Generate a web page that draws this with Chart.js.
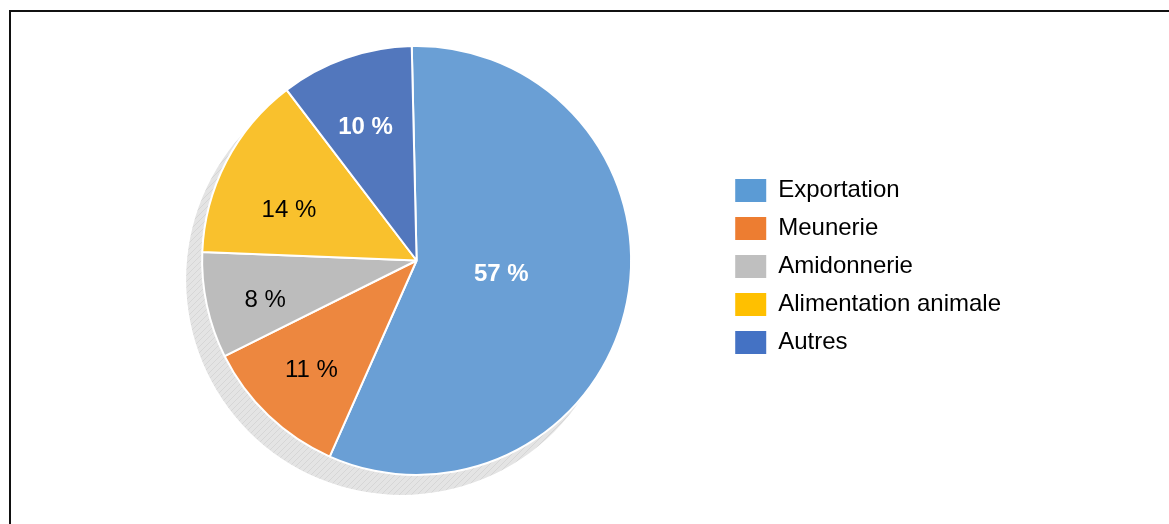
<!DOCTYPE html>
<html>
<head>
<meta charset="utf-8">
<script src="https://cdn.jsdelivr.net/npm/chart.js@4/dist/chart.umd.min.js"></script>
<style>
  html, body { margin: 0; padding: 0; background: #fff; }
  #wrap { position: relative; width: 1169px; height: 524px; overflow: hidden; }
  #frame { position: absolute; left: 9px; top: 10px; right: -5px; bottom: -5px;
           border-left: 2px solid #111; border-top: 2px solid #111; }
  #chart { position: absolute; left: 0; top: 0; }
</style>
</head>
<body>
<div id="wrap">
  <div id="frame"></div>
  <canvas id="chart" width="1169" height="524"></canvas>
</div>
<script>
const labels = ['Exportation', 'Meunerie', 'Amidonnerie', 'Alimentation animale', 'Autres']
const values = [57, 11, 8, 14, 10]
const sliceColors = ['#6a9fd5', '#ed873f', '#bcbcbc', '#f9c12d', '#5277bd']
const legendColors = ['#5b9bd5', '#ed7d31', '#bfbfbf', '#ffc000', '#4472c4']

// text style and placement of the value labels inside the slices
const labelStyle = [
    { color: '#ffffff', weight: 'bold', dist: 0.40, turn: -1.8 },
    { color: '#000000', weight: 'normal', dist: 0.71, turn: 0 },
    { color: '#000000', weight: 'normal', dist: 0.73, turn: -2.6 },
    { color: '#000000', weight: 'normal', dist: 0.64, turn: -6 },
    { color: '#ffffff', weight: 'bold', dist: 0.665, turn: -1.7 }
]

const makeHatch = () => {
    const c = document.createElement('canvas')
    c.width = 6
    c.height = 6
    const g = c.getContext('2d')
    g.fillStyle = '#e4e4e4'
    g.fillRect(0, 0, 6, 6)
    g.strokeStyle = '#d6d6d6'
    g.lineWidth = 1
    g.beginPath()
    g.moveTo(0, 6)
    g.lineTo(6, 0)
    g.stroke()
    return g.createPattern(c, 'repeat')
}

const shadowPlugin = {
    id: 'pieShadow',
    beforeDatasetsDraw(chart) {
        const arc = chart.getDatasetMeta(0).data[0]
        if (!arc) return
        const ctx = chart.ctx
        ctx.save()
        ctx.fillStyle = makeHatch()
        ctx.beginPath()
        ctx.arc(arc.x - 15, arc.y + 19, arc.outerRadius + 1, 0, Math.PI * 2)
        ctx.fill()
        ctx.restore()
    }
}

const valueLabels = {
    id: 'valueLabels',
    afterDatasetsDraw(chart) {
        const ctx = chart.ctx
        const meta = chart.getDatasetMeta(0)
        meta.data.forEach((arc, i) => {
            const s = labelStyle[i]
            const mid = (arc.startAngle + arc.endAngle) / 2 + s.turn * Math.PI / 180
            const r = arc.outerRadius * s.dist
            ctx.save()
            ctx.fillStyle = s.color
            ctx.font = `${s.weight} 24px "Liberation Sans", Arial, sans-serif`
            ctx.textAlign = 'center'
            ctx.textBaseline = 'middle'
            ctx.fillText(values[i] + ' %', arc.x + Math.cos(mid) * r, arc.y + Math.sin(mid) * r)
            ctx.restore()
        })
    }
}

new Chart(document.getElementById('chart'), {
    type: 'pie',
    data: {
        labels: labels,
        datasets: [{
            data: values,
            backgroundColor: sliceColors,
            borderColor: '#ffffff',
            borderWidth: 2
        }]
    },
    options: {
        responsive: false,
        animation: false,
        rotation: -1.3,
        layout: {
            padding: { left: 112, right: 158, top: 45, bottom: 48 }
        },
        plugins: {
            tooltip: { enabled: false },
            legend: {
                position: 'right',
                title: {
                    display: true,
                    text: '',
                    font: { size: 1 },
                    padding: { top: 11, bottom: 0 }
                },
                labels: {
                    boxWidth: 31,
                    boxHeight: 23,
                    padding: 14,
                    color: '#000',
                    font: { family: '"Liberation Sans", Arial, sans-serif', size: 24 },
                    generateLabels: (chart) => labels.map((l, i) => ({
                        text: l,
                        fillStyle: legendColors[i],
                        strokeStyle: legendColors[i],
                        lineWidth: 0,
                        fontColor: '#000',
                        hidden: false,
                        index: i
                    }))
                }
            }
        }
    },
    plugins: [shadowPlugin, valueLabels]
})
</script>
</body>
</html>
